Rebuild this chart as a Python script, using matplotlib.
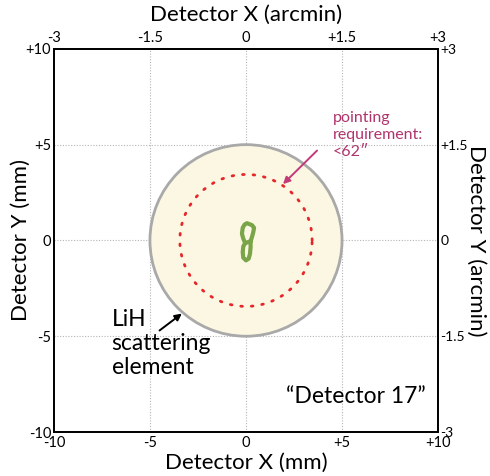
import numpy as np
import matplotlib
matplotlib.use("Agg")
import matplotlib.pyplot as plt
from matplotlib.patches import Circle

plt.rcParams["font.family"] = ["Lato", "DejaVu Sans"]

# detector plane limits and tick values
mm_ticks = [-10, -5, 0, 5, 10]
mm_labels = ["-10", "-5", "0", "+5", "+10"]
arcmin_ticks = [-3, -1.5, 0, 1.5, 3]
arcmin_labels = ["-3", "-1.5", "0", "+1.5", "+3"]

# LiH scattering element radius (mm) and pointing requirement (arcsec)
lih_radius = 5.0
pointing_req_arcsec = 62
mm_per_arcmin = 10.0 / 3.0

# measured pointing contour (mm)
contour_x = [0.24, -0.04, -0.14, -0.21, -0.17, -0.07, 0.05, 0.31, 0.42, 0.38,
             0.31, 0.24, 0.24, 0.21, 0.14, 0.00, -0.14, -0.17, -0.14, -0.04]
contour_y = [-0.04, -0.14, 0.09, 0.35, 0.66, 0.83, 0.90, 0.80, 0.66, 0.43,
             0.17, -0.04, -0.35, -0.69, -0.95, -1.04, -0.90, -0.61, -0.31, -0.14]

fig = plt.figure(figsize=(4.9, 4.76), dpi=100)
ax = fig.add_axes([0.110, 0.0924, 0.784, 0.805])
ax.set_xlim(-10, 10)
ax.set_ylim(-10, 10)

for v in [-5, 0, 5]:
    ax.axvline(v, color="#b5b5b5", lw=0.8, ls=(0, (1, 1.5)), zorder=0)
    ax.axhline(v, color="#b5b5b5", lw=0.8, ls=(0, (1, 1.5)), zorder=0)

ax.add_patch(Circle((0, 0), lih_radius, facecolor="#fcf7e2",
                    edgecolor="#a9a9a9", lw=2, zorder=1))

r_req = pointing_req_arcsec / 60.0 * mm_per_arcmin
t = np.linspace(0, 2 * np.pi, 400)
ax.plot(r_req * np.cos(t), r_req * np.sin(t), color="#e5262a", lw=2,
        ls=(0, (0.6, 3.2)), dash_capstyle="round", zorder=2)

ax.plot(contour_x, contour_y, color="#79a548", lw=3, zorder=3,
        solid_joinstyle="round", solid_capstyle="round")

ax.set_xticks(mm_ticks, mm_labels)
ax.set_yticks(mm_ticks, mm_labels)
ax.tick_params(axis="x", length=0, pad=3, labelsize=10.5)
ax.tick_params(axis="y", length=0, pad=2, labelsize=10.5)
ax.set_xlabel("Detector X (mm)", fontsize=16, va="center")
ax.set_ylabel("Detector Y (mm)", fontsize=16, va="center")
ax.xaxis.set_label_coords(0.5, -0.08)
ax.yaxis.set_label_coords(-0.086, 0.5)

axt = ax.twiny()
axt.set_xlim(-3, 3)
axt.set_xticks(arcmin_ticks, arcmin_labels)
axt.tick_params(length=0, pad=3, labelsize=10.5)
axt.set_xlabel("Detector X (arcmin)", fontsize=16, va="center")
axt.xaxis.set_label_coords(0.5, 1.089)

axr = ax.twinx()
axr.set_ylim(-3, 3)
axr.set_yticks(arcmin_ticks, arcmin_labels)
axr.tick_params(length=0, pad=1.5, labelsize=10)
axr.set_ylabel("Detector Y (arcmin)", fontsize=16, rotation=270, va="center")
axr.yaxis.set_label_coords(1.098, 0.5)

for a in (ax, axt, axr):
    for s in a.spines.values():
        s.set_linewidth(1.1)

# annotations
ang = np.deg2rad(57)
ax.annotate("", xy=(r_req * np.cos(ang), r_req * np.sin(ang)),
            xytext=(3.7, 4.69),
            arrowprops=dict(arrowstyle="-|>", color="#c23a78", lw=1.4,
                            shrinkA=0, shrinkB=1, mutation_scale=10))
ax.text(4.5, 6.75, "pointing\nrequirement:\n<62\u2033", ha="left", va="top",
        fontsize=11.5, color="#b0346c", linespacing=1.25)

ang = np.deg2rad(229)
ax.annotate("", xy=(lih_radius * np.cos(ang), lih_radius * np.sin(ang)),
            xytext=(-4.5, -4.7),
            arrowprops=dict(arrowstyle="-|>", color="black", lw=1.4,
                            shrinkA=0, shrinkB=1, mutation_scale=10))
ax.text(-7.0, -3.6, "LiH\nscattering\nelement", ha="left", va="top",
        fontsize=16.5, linespacing=1.15)

ax.text(5.7, -8.15, "\u201cDetector 17\u201d", ha="center", va="center", fontsize=16.5)

fig.savefig("out.png", dpi=100)
